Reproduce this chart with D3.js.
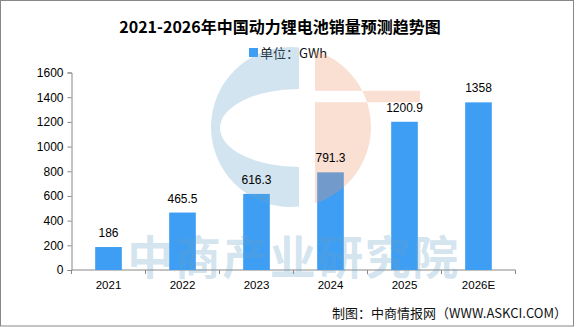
<!DOCTYPE html>
<html>
<head>
<meta charset="utf-8">
<script src="https://cdn.jsdelivr.net/npm/d3@7"></script>
<style>
  html, body { margin: 0; padding: 0; background: #fff; }
  svg { display: block; }
</style>
</head>
<body>
<div id="chart"></div>
<script>
// data
const years = ["2021", "2022", "2023", "2024", "2025", "2026E"];
const sales = [186, 465.5, 616.3, 791.3, 1200.9, 1358];
const salesLabels = ["186", "465.5", "616.3", "791.3", "1200.9", "1358"];
const yTicks = [0, 200, 400, 600, 800, 1000, 1200, 1400, 1600];

const width = 583, height = 327;
const margin = { left: 71.5, right: 67.5, top: 72.5, bottom: 57 };

const svg = d3.select("#chart").append("svg")
    .attr("width", width)
    .attr("height", height);

// outer frame
svg.append("rect")
    .attr("x", 0.5).attr("y", 0.5)
    .attr("width", 573).attr("height", 325.5)
    .attr("fill", "#fff")
    .attr("stroke", "#888");

const x = d3.scaleBand()
    .domain(years)
    .range([margin.left, width - margin.right])
    .padding(0);

const y = d3.scaleLinear()
    .domain([0, 1600])
    .range([height - margin.bottom, margin.top]);

const barW = x.step() * 0.36;
const font = "'Liberation Sans', Arial, sans-serif";
const cjk = "'Noto Sans CJK SC', 'Noto Sans', sans-serif";

// title
svg.append("text")
    .attr("x", 280).attr("y", 33)
    .attr("text-anchor", "middle")
    .attr("font-family", cjk)
    .attr("font-weight", "bold")
    .attr("font-size", 16)
    .attr("fill", "#000")
    .text("2021-2026年中国动力锂电池销量预测趋势图");

// legend
svg.append("rect")
    .attr("x", 249).attr("y", 48)
    .attr("width", 9).attr("height", 9)
    .attr("fill", "#3d9ef4");
svg.append("text")
    .attr("x", 260).attr("y", 58)
    .attr("font-family", cjk)
    .attr("font-size", 13)
    .attr("fill", "#111")
    .text("单位：GWh");

// y axis
const yAxis = d3.axisLeft(y)
    .tickValues(yTicks)
    .tickFormat(d3.format("d"))
    .tickSize(4)
    .tickPadding(4);
const gy = svg.append("g")
    .attr("transform", `translate(${margin.left},0)`)
    .call(yAxis);
gy.selectAll("path, line").attr("stroke", "#888");
gy.selectAll("text")
    .attr("font-family", font)
    .attr("font-size", 12)
    .attr("fill", "#000");

// x axis (ticks at band edges)
const y0 = y(0);
svg.append("line")
    .attr("x1", margin.left).attr("x2", width - margin.right)
    .attr("y1", y0).attr("y2", y0)
    .attr("stroke", "#888");
const edges = years.map(d => x(d)).concat([x(years[years.length - 1]) + x.step()]);
svg.selectAll(".xtick")
    .data(edges)
    .join("line")
    .attr("class", "xtick")
    .attr("x1", d => d).attr("x2", d => d)
    .attr("y1", y0).attr("y2", y0 + 4)
    .attr("stroke", "#888");
svg.selectAll(".xlabel")
    .data(years)
    .join("text")
    .attr("class", "xlabel")
    .attr("x", d => x(d) + x.step() / 2)
    .attr("y", 289)
    .attr("text-anchor", "middle")
    .attr("font-family", font)
    .attr("font-size", 11.5)
    .attr("fill", "#000")
    .text(d => d);

// bars
svg.selectAll(".bar")
    .data(sales)
    .join("rect")
    .attr("class", "bar")
    .attr("x", (d, i) => x(years[i]) + x.step() / 2 - barW / 2)
    .attr("y", d => y(d))
    .attr("width", barW)
    .attr("height", d => y0 - y(d))
    .attr("fill", "#3d9ef4");

// watermark logo + text, drawn over the bars
const wm = svg.append("g").attr("pointer-events", "none");
const cx = 291, cy = 127, r = 80;
const defs = svg.append("defs");
defs.append("clipPath").attr("id", "clipL")
    .append("rect").attr("x", 0).attr("y", 0).attr("width", 299).attr("height", height);
defs.append("clipPath").attr("id", "clipR")
    .append("rect").attr("x", 315).attr("y", 0).attr("width", width).attr("height", height);

const circlePath = `M${cx - r},${cy}a${r},${r} 0 1,0 ${2 * r},0a${r},${r} 0 1,0 ${-2 * r},0Z`;
const ex = 299, ey = 128, erx = 79, ery = 39;
const ellipsePath = `M${ex - erx},${ey}a${erx},${ery} 0 1,0 ${2 * erx},0a${erx},${ery} 0 1,0 ${-2 * erx},0Z`;

wm.append("path")
    .attr("d", circlePath + ellipsePath)
    .attr("fill-rule", "evenodd")
    .attr("clip-path", "url(#clipL)")
    .attr("fill", "rgb(105,165,201)")
    .attr("fill-opacity", 0.3);

const gapPath = `M300,90.7H420V102.3H300Z`;
wm.append("path")
    .attr("d", circlePath + gapPath)
    .attr("fill-rule", "evenodd")
    .attr("clip-path", "url(#clipR)")
    .attr("fill", "rgb(240,150,110)")
    .attr("fill-opacity", 0.3);

wm.append("text")
    .attr("x", 293.5).attr("y", 274)
    .attr("text-anchor", "middle")
    .attr("font-family", cjk)
    .attr("font-weight", "bold")
    .attr("font-size", 46)
    .attr("letter-spacing", 1.5)
    .attr("fill", "rgb(105,165,201)")
    .attr("fill-opacity", 0.3)
    .text("中商产业研究院");

// value labels
svg.selectAll(".vlabel")
    .data(sales)
    .join("text")
    .attr("class", "vlabel")
    .attr("x", (d, i) => x(years[i]) + x.step() / 2)
    .attr("y", d => y(d) - 10)
    .attr("text-anchor", "middle")
    .attr("font-family", font)
    .attr("font-size", 12)
    .attr("fill", "#000")
    .text((d, i) => salesLabels[i]);

// source
svg.append("text")
    .attr("x", 567).attr("y", 318)
    .attr("text-anchor", "end")
    .attr("font-family", cjk)
    .attr("font-size", 13)
    .attr("fill", "#111")
    .text("制图：中商情报网（WWW.ASKCI.COM）");
</script>
</body>
</html>
